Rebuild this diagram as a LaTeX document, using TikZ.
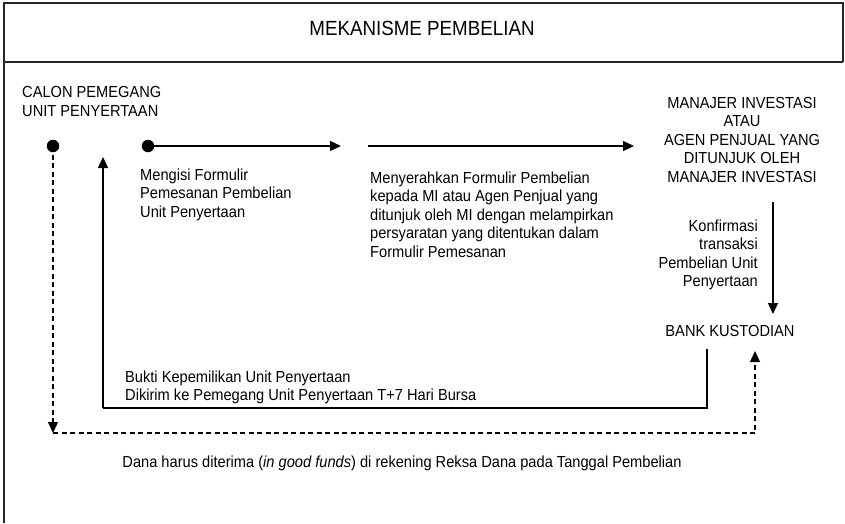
\documentclass[tikz,border=0pt]{standalone}
\usepackage{fontspec}
\setmainfont{Liberation Sans}[FakeStretch=0.915]
\usetikzlibrary{arrows.meta}
\tikzset{
  frame/.style={line width=1.6pt, draw=black!85},
  txt/.style={inner sep=0pt, font=\fontsize{16}{18.6}\selectfont},
  flow/.style={line width=1.4pt, -{Triangle[length=11pt,width=10pt]}},
  plain/.style={line width=1.4pt},
  dashflow/.style={line width=1.3pt, dash pattern=on 5pt off 3.5pt},
  dot/.style={circle, fill=black, inner sep=0pt, minimum size=12.5pt}
}
\begin{document}
\begin{tikzpicture}[x=1pt,y=-1pt]
\useasboundingbox (0,0) rectangle (845,523);
% frame
\draw[frame] (4,523) -- (4,3) -- (843,3) -- (843,62);
\draw[frame] (4,62) -- (843,62);
% texts (base anchor = baseline of the last line)
\node[txt, anchor=base, font=\fontsize{20.5}{24}\selectfont] (title) at (422,35) {MEKANISME PEMBELIAN};
\node[txt, anchor=base west, align=left] (calon) at (22,116) {CALON PEMEGANG\\UNIT PENYERTAAN};
\node[txt, anchor=base, align=center] (mi) at (742,182.4) {MANAJER INVESTASI\\ATAU\\AGEN PENJUAL YANG\\DITUNJUK OLEH\\MANAJER INVESTASI};
\node[txt, anchor=base west, align=left] (mengisi) at (140,217.2) {Mengisi Formulir\\Pemesanan Pembelian\\Unit Penyertaan};
\node[txt, anchor=base west, align=left] (serah) at (370,257.4) {Menyerahkan Formulir Pembelian\\kepada MI atau Agen Penjual yang\\ditunjuk oleh MI dengan melampirkan\\persyaratan yang ditentukan dalam\\Formulir Pemesanan};
\node[txt, anchor=base east, align=right] (konf) at (758,286.8) {Konfirmasi\\transaksi\\Pembelian Unit\\Penyertaan};
\node[txt, anchor=base] (bank) at (730,336) {BANK KUSTODIAN};
\node[txt, anchor=base west, align=left] (bukti) at (125,400.6) {Bukti Kepemilikan Unit Penyertaan\\Dikirim ke Pemegang Unit Penyertaan T+7 Hari Bursa};
\node[txt, anchor=base] (dana) at (402,467) {Dana harus diterima (\textit{in good funds}) di rekening Reksa Dana pada Tanggal Pembelian};
% dots
\node[dot] (d1) at (53,146) {};
\node[dot] (d2) at (148,146) {};
% coordinates
\coordinate (a1e) at (341,146);
\coordinate (a2s) at (368,146);
\coordinate (a2e) at (634,146);
\coordinate (kt) at (773,202);
\coordinate (kb) at (773,314);
\coordinate (c1) at (53,433);
\coordinate (c2) at (755,433);
\coordinate (c3) at (755,351);
\coordinate (s1) at (707,349);
\coordinate (s2) at (707,408);
\coordinate (s3) at (103,408);
\coordinate (s4) at (103,157);
% connectors
\draw[flow] (d2.center) -- (a1e);
\draw[flow] (a2s) -- (a2e);
\draw[flow] (kt) -- (kb);
\draw[plain] (s1) -- (s2) -- (s3);
\draw[flow] (s3) -- (s4);
\draw[dashflow, -{Triangle[length=11pt,width=10pt]}] (d1.center) -- (c1);
\draw[dashflow, -{Triangle[length=11pt,width=10pt]}] (c1) -- (c2) -- (c3);
\end{tikzpicture}
\end{document}
